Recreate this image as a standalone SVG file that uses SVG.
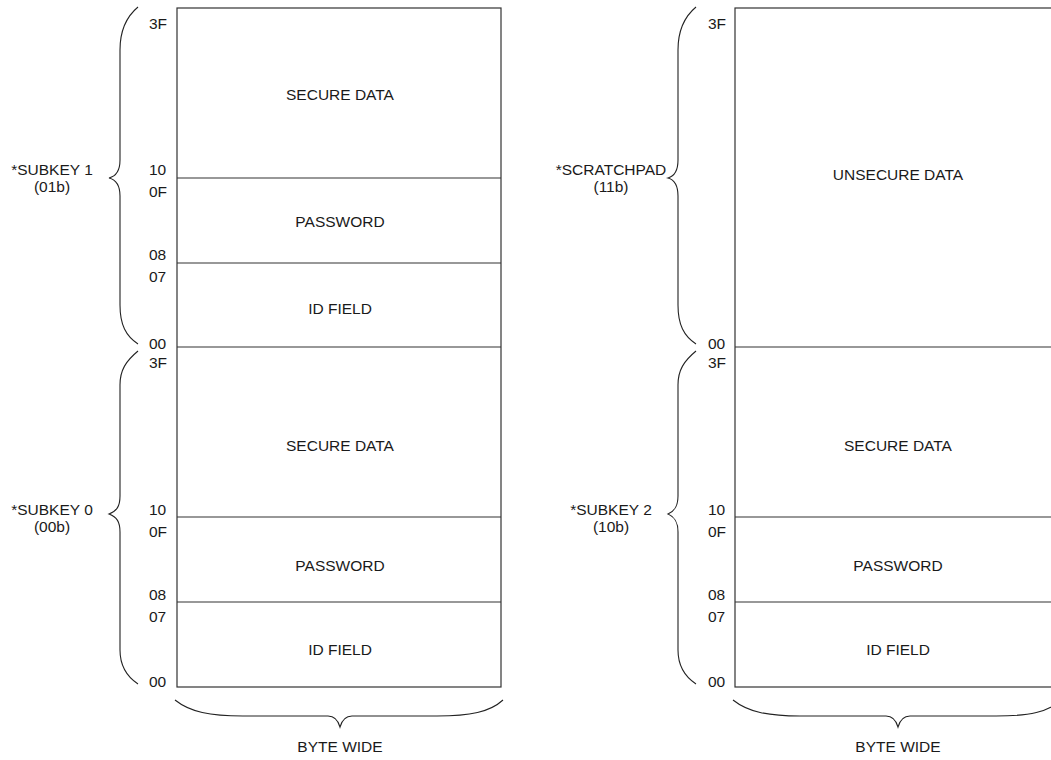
<svg xmlns="http://www.w3.org/2000/svg" width="1051" height="760" viewBox="0 0 1051 760">
<style>
text{font-family:"Liberation Sans",Arial,sans-serif;font-size:15.5px;fill:#1a1a1a}
.c{text-anchor:middle}
.box{fill:none;stroke:#333;stroke-width:1.2}
.ln{stroke:#333;stroke-width:1.2}
.br{fill:none;stroke:#222;stroke-width:1.1}
</style>
<rect width="1051" height="760" fill="#fff"/>
<g id="left-map">
<rect class="box" x="177" y="8" width="324" height="679"/>
<line class="ln" x1="177" y1="178" x2="501" y2="178"/>
<line class="ln" x1="177" y1="263" x2="501" y2="263"/>
<line class="ln" x1="177" y1="347" x2="501" y2="347"/>
<line class="ln" x1="177" y1="517" x2="501" y2="517"/>
<line class="ln" x1="177" y1="602" x2="501" y2="602"/>
<text class="c" x="340" y="100">SECURE DATA</text>
<text class="c" x="340" y="227">PASSWORD</text>
<text class="c" x="340" y="314">ID FIELD</text>
<text class="c" x="340" y="451">SECURE DATA</text>
<text class="c" x="340" y="571">PASSWORD</text>
<text class="c" x="340" y="655">ID FIELD</text>
<text x="149" y="29">3F</text>
<text x="149" y="175">10</text>
<text x="149" y="197">0F</text>
<text x="149" y="260">08</text>
<text x="149" y="282">07</text>
<text x="149" y="349">00</text>
<text x="149" y="368">3F</text>
<text x="149" y="515">10</text>
<text x="149" y="537">0F</text>
<text x="149" y="600">08</text>
<text x="149" y="622">07</text>
<text x="149" y="687">00</text>
</g>
<g id="right-map">
<rect class="box" x="735" y="8" width="326" height="679"/>
<line class="ln" x1="735" y1="347" x2="1061" y2="347"/>
<line class="ln" x1="735" y1="517" x2="1061" y2="517"/>
<line class="ln" x1="735" y1="602" x2="1061" y2="602"/>
<text class="c" x="898" y="180">UNSECURE DATA</text>
<text class="c" x="898" y="451">SECURE DATA</text>
<text class="c" x="898" y="571">PASSWORD</text>
<text class="c" x="898" y="655">ID FIELD</text>
<text x="708" y="29">3F</text>
<text x="708" y="349">00</text>
<text x="708" y="368">3F</text>
<text x="708" y="515">10</text>
<text x="708" y="537">0F</text>
<text x="708" y="600">08</text>
<text x="708" y="622">07</text>
<text x="708" y="687">00</text>
</g>
<g id="subkey1">
<text class="c" x="52" y="175">*SUBKEY 1</text>
<text class="c" x="52" y="192">(01b)</text>
</g>
<g id="subkey0">
<text class="c" x="52" y="515">*SUBKEY 0</text>
<text class="c" x="52" y="532">(00b)</text>
</g>
<g id="scratchpad">
<text class="c" x="611" y="175">*SCRATCHPAD</text>
<text class="c" x="611" y="192">(11b)</text>
</g>
<g id="subkey2">
<text class="c" x="611" y="515">*SUBKEY 2</text>
<text class="c" x="611" y="532">(10b)</text>
</g>
<g id="bytewide-left">
<text class="c" x="340" y="752">BYTE WIDE</text>
</g>
<g id="bytewide-right">
<text class="c" x="898" y="752">BYTE WIDE</text>
</g>
<g id="braces">
<path class="br" d="M138,7 C126,17 120,30 120,50 L120,160 C120,170 117,176 109,178 C117,180 120,186 120,196 L120,305 C120,325 126,336 138,344"/>
<path class="br" d="M138,351 C126,361 120,370 120,385 L120,496 C120,506 117,511 109,514 C117,517 120,522 120,532 L120,650 C120,665 126,676 138,684"/>
<path class="br" d="M696,7 C684,17 678,30 678,50 L678,160 C678,170 675,176 668,178 C675,180 678,186 678,196 L678,305 C678,325 684,336 696,344"/>
<path class="br" d="M696,351 C684,361 678,370 678,385 L678,496 C678,506 675,511 668,514 C675,517 678,522 678,532 L678,650 C678,665 684,676 696,684"/>
<path class="br" d="M175,700 C190,712 210,716 243,716 L328,716 C334,716 338,720 340,727 C342,720 346,716 352,716 L437,716 C470,716 490,712 503,700"/>
<path class="br" d="M733,700 C748,712 768,716 800,716 L886,716 C892,716 896,720 898,727 C900,720 904,716 910,716 L996,716 C1030,716 1048,712 1061,700"/>
</g>
</svg>
